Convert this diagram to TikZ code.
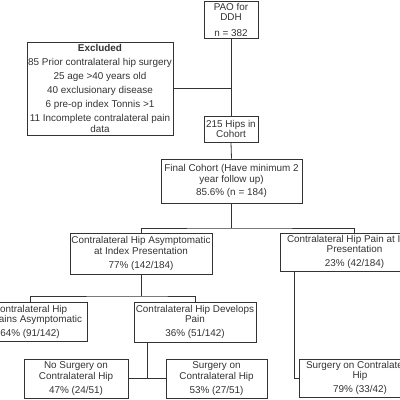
\documentclass[tikz,border=0pt]{standalone}
\usepackage{fontspec}
\setmainfont{Liberation Sans}
\definecolor{ink}{HTML}{333333}
\begin{document}
\begin{tikzpicture}[x=1pt,y=-1pt,
  box/.style={draw=ink, line width=0.8pt, inner sep=0pt, align=center, text=ink,
    font=\fontsize{9.9}{10.5}\selectfont},
  conn/.style={draw=ink, line width=0.8pt}]
\useasboundingbox (0,0) rectangle (400,400);
\clip (0,0) rectangle (400,400);
\node[box, minimum width=54pt, minimum height=37pt] (pao) at (231,19.5) {PAO for\\DDH\\[5pt]n = 382};
\node[box, minimum width=146pt, minimum height=93pt] (excl) at (100,88.5) {\textbf{Excluded}\\[3.5pt]85 Prior contralateral hip surgery\\[3.5pt]25 age >40 years old\\[3.5pt]40 exclusionary disease\\[3.5pt]6 pre-op index Tonnis >1\\[3.5pt]11 Incomplete contralateral pain\\data};
\node[box, minimum width=54pt, minimum height=26pt] (hips) at (231,129) {215 Hips in\\Cohort};
\node[box, minimum width=141pt, minimum height=44pt] (final) at (231.5,181) {Final Cohort (Have minimum 2\\year follow up)\\[3pt]85.6\% (n = 184)};
\node[box, minimum width=142pt, minimum height=41pt] (asym) at (141,253.5) {Contralateral Hip Asymptomatic\\at Index Presentation\\[3.5pt]77\% (142/184)};
\node[box, minimum width=149pt, minimum height=38pt] (pain) at (354.5,252) {Contralateral Hip Pain at Index\\Presentation\\[3.5pt]23\% (42/184)};
\node[box, minimum width=114pt, minimum height=39pt] (remains) at (30,321.5) {Contralateral Hip\\Remains Asymptomatic\\[3pt]64\% (91/142)};
\node[box, minimum width=122pt, minimum height=40pt] (develops) at (195,322) {Contralateral Hip Develops\\Pain\\[3.5pt]36\% (51/142)};
\node[box, minimum width=104pt, minimum height=39pt] (nosurg) at (76,378.5) {No Surgery on\\Contralateral Hip\\[3.5pt]47\% (24/51)};
\node[box, minimum width=101pt, minimum height=39pt] (surg) at (216.5,378.5) {Surgery on\\Contralateral Hip\\[3.5pt]53\% (27/51)};
\node[box, minimum width=122pt, minimum height=38pt] (surgpain) at (360,378) {Surgery on Contralateral\\Hip\\[3.5pt]79\% (33/42)};
\coordinate (fj) at (231.5,228);
\coordinate (aj) at (141,296);
\coordinate (dj) at (147,378.5);
\coordinate (pj) at (294,378);
\draw[conn] (pao.south) -- (hips.north);
\draw[conn] (excl.east) -- (excl.east -| pao.south);
\draw[conn] (hips.south) -- (final.north);
\draw[conn] (final.south) -- (fj);
\draw[conn] (asym.north) |- (fj) -| (pain.north);
\draw[conn] (asym.south) -- (aj);
\draw[conn] (remains.north) |- (aj) -| (develops.north);
\draw[conn] (nosurg.east) -- (surg.west);
\draw[conn] (develops.south -| dj) -- (dj);
\draw[conn] (pain.south -| pj) |- (surgpain.west);
\end{tikzpicture}
\end{document}
